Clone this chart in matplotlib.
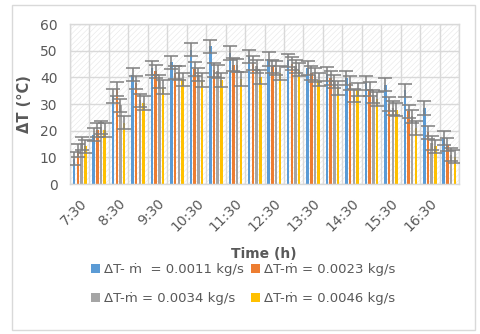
import matplotlib
matplotlib.use("Agg")
import matplotlib.pyplot as plt
from matplotlib.patches import Rectangle
import numpy as np

times = ["7:30", "8:00", "8:30", "9:00", "9:30", "10:00", "10:30", "11:00", "11:30", "12:00",
         "12:30", "13:00", "13:30", "14:00", "14:30", "15:00", "15:30", "16:00", "16:30", "17:00"]
tick_labels = ["7:30", "", "8:30", "", "9:30", "", "10:30", "", "11:30", "", "12:30", "",
               "13:30", "", "14:30", "", "15:30", "", "16:30", ""]

s1 = [9.5, 18.5, 33, 41, 43.5, 45.6, 50.4, 51.6, 49.1, 47.9, 46.9, 46.4, 43.5, 41.3, 39.7, 37.9, 37.2, 35.1, 28.5, 17.2]
s2 = [12.5, 20.3, 35.6, 38, 42.2, 41.8, 43.1, 42.8, 44.7, 45.4, 44.1, 45.1, 41.6, 39.7, 37.9, 35.6, 30, 27.2, 19.4, 14.7]
s3 = [15.2, 21.2, 29.5, 31.4, 38.5, 41.6, 41, 42.2, 44.5, 44.1, 43.5, 44.1, 40.9, 38.5, 33.2, 32.8, 28.5, 25.4, 15.4, 11]
s4 = [14.1, 20.2, 23, 30.4, 36.4, 39.1, 39, 39, 39.4, 40.1, 41.6, 42.9, 39.1, 36, 35.4, 31.9, 27.9, 21, 14.1, 10.3]
err = 2.5

labels = ["ΔT- ṁ  = 0.0011 kg/s", "ΔT-ṁ = 0.0023 kg/s", "ΔT-ṁ = 0.0034 kg/s", "ΔT-ṁ = 0.0046 kg/s"]
colors = ["#5B9BD5", "#ED7D31", "#A5A5A5", "#FFC000"]
series = [s1, s2, s3, s4]

txt = "#595959"
grid_c = "#D9D9D9"

fig = plt.figure(figsize=(4.8, 3.34), dpi=100)
fig.patch.set_facecolor("white")
fig.add_artist(Rectangle((12 / 480, 1 - 330 / 334), (475 - 12) / 480, (330 - 5) / 334,
                         transform=fig.transFigure, fill=False, edgecolor="#D9D9D9", lw=1))

ax = fig.add_axes([70 / 480, 1 - 184 / 334, (459 - 70) / 480, (184 - 24) / 334])
n = len(times)
x = np.arange(n)
ax.set_xlim(-0.5, n - 0.5)
ax.set_ylim(0, 60)

plt.rcParams['hatch.linewidth'] = 0.4
ax.add_patch(Rectangle((-0.5, 0), n, 60, facecolor="white", edgecolor="#E6E6E6",
                       hatch="//////", lw=0, zorder=0))

ax.set_yticks(range(0, 61, 10))
ax.set_xticks(x)
ax.set_xticklabels(tick_labels, rotation=45, ha="right", va="top", rotation_mode="anchor",
                   color=txt, fontsize=10, family="DejaVu Sans")
ax.set_xticks(np.arange(-0.5, n, 1), minor=True)
ax.tick_params(axis="x", which="both", length=0, pad=9)
ax.tick_params(axis="y", length=0, labelcolor=txt, labelsize=10, pad=9)
ax.grid(axis="y", which="major", color=grid_c, lw=1, zorder=1)
ax.grid(axis="x", which="minor", color=grid_c, lw=1, zorder=1)
ax.grid(axis="x", which="major", visible=False)
for sp in ax.spines.values():
    sp.set_color(grid_c)
    sp.set_linewidth(1)

w = 0.13
step = 0.19
handles = []
for k, (vals, col, lab) in enumerate(zip(series, colors, labels)):
    off = (k - 1.5) * step
    b = ax.bar(x + off, vals, width=w, color=col, label=lab, zorder=2,
               yerr=err, error_kw=dict(ecolor="#7F7F7F", elinewidth=1.1, capsize=5, capthick=1.1, zorder=3))
    handles.append(b)

ax.set_ylabel("ΔT (°C)", fontsize=10.5, fontweight="bold", color=txt, labelpad=6)
fig.text(264 / 480, 1 - 254 / 334, "Time (h)", ha="center", va="center",
         fontsize=10, fontweight="bold", color=txt)

leg = fig.legend([handles[0], handles[2], handles[1], handles[3]],
                 [labels[0], labels[2], labels[1], labels[3]],
                 ncol=2, loc="center", bbox_to_anchor=(243 / 480, 1 - 284 / 334),
                 frameon=False, fontsize=9.5, labelcolor=txt, handlelength=0.7, handleheight=0.7,
                 handletextpad=0.3, columnspacing=0.5, labelspacing=1.25)

fig.savefig("out.png", dpi=100)
